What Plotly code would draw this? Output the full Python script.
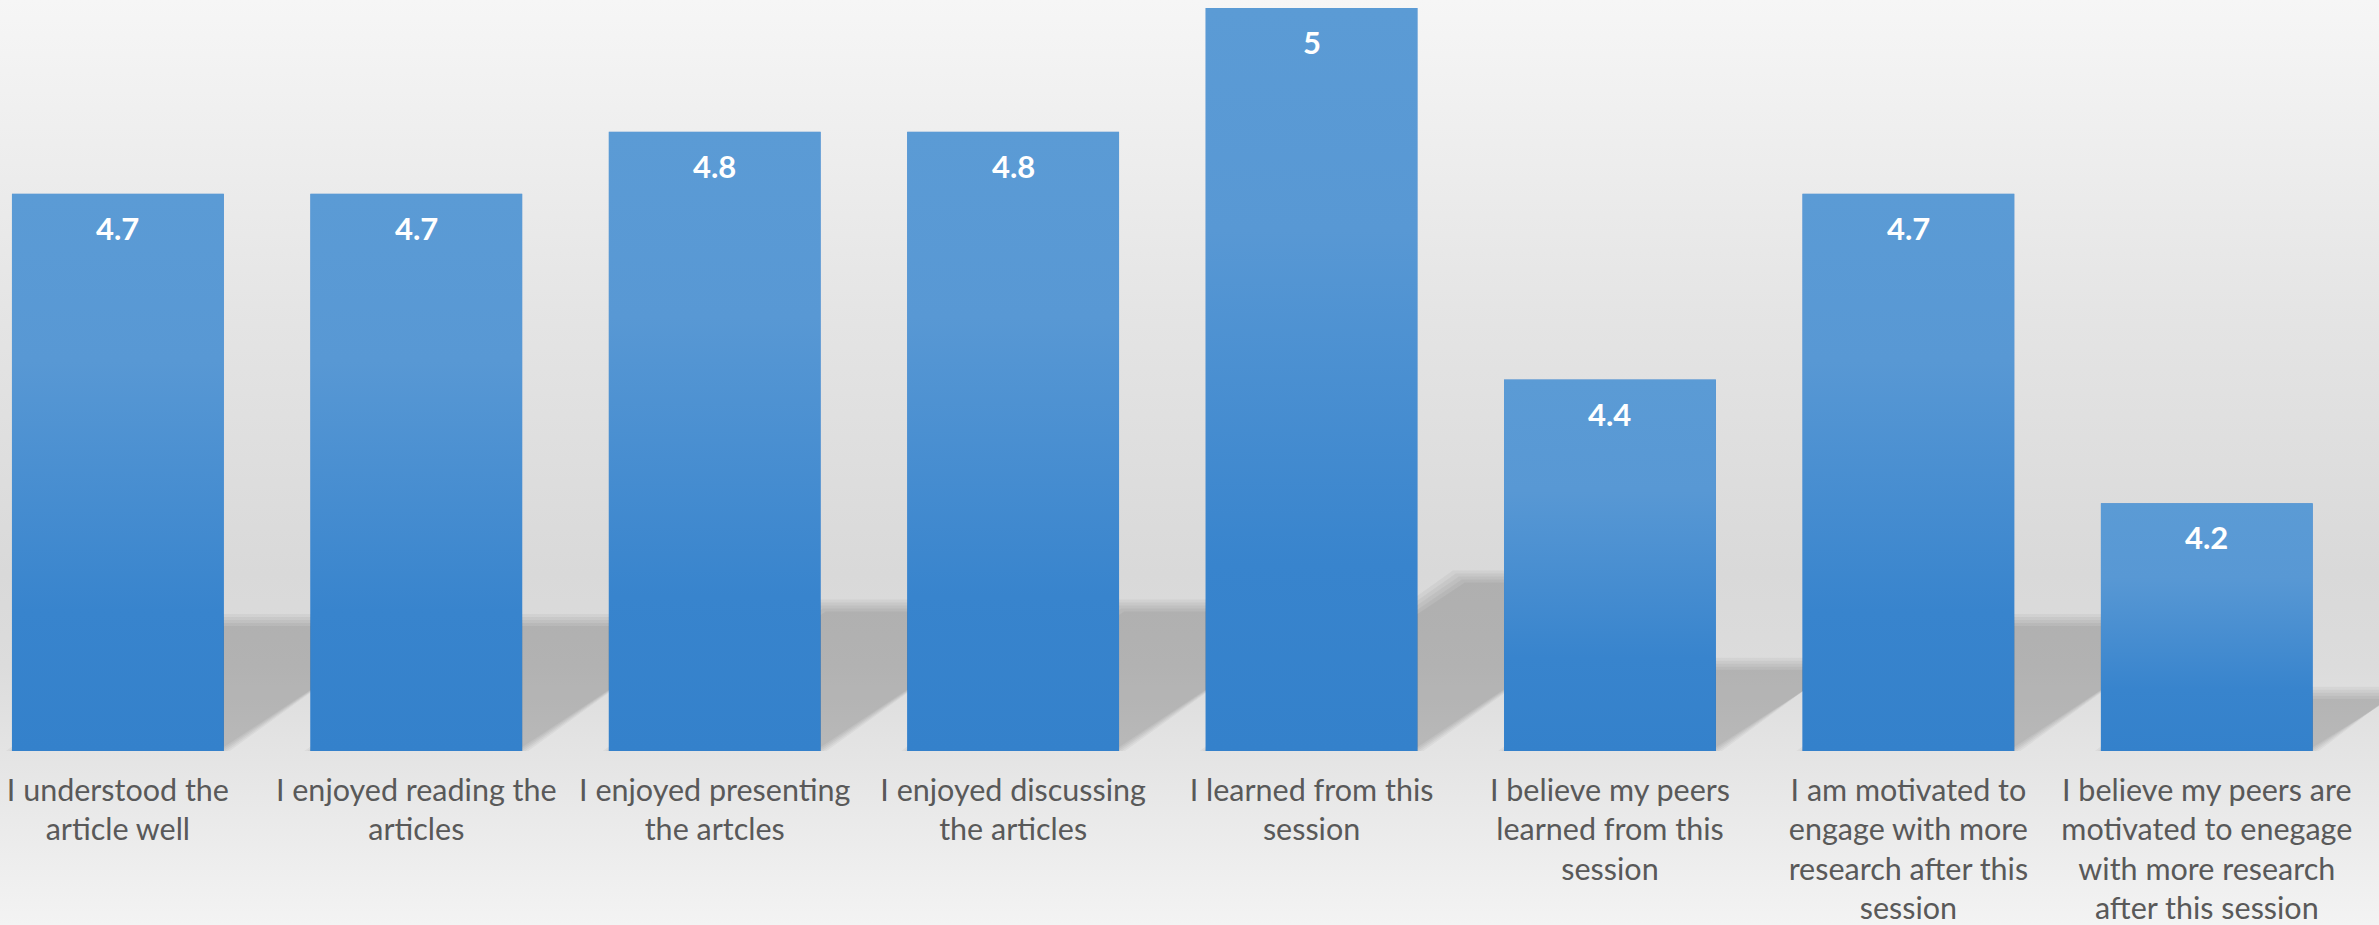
import base64
import plotly.graph_objects as go

# Survey statements (axis categories) and mean ratings
categories = [
    "I understood the<br>article well",
    "I enjoyed reading the<br>articles",
    "I enjoyed presenting<br>the artcles",
    "I enjoyed discussing<br>the articles",
    "I learned from this<br>session",
    "I believe my peers<br>learned from this<br>session",
    "I am motivated to<br>engage with more<br>research after this<br>session",
    "I believe my peers are<br>motivated to enegage<br>with more research<br>after this session",
]
scores = [4.7, 4.7, 4.8, 4.8, 5.0, 4.4, 4.7, 4.2]

# ---- layout geometry -------------------------------------------------------
W, H = 2379, 925
MARGIN_B = 174
Y_MIN, Y_MAX = 3.8, 5.013
X_MIN, X_MAX = -0.395, 7.577
BAR_W = 0.71

PX_X = W / (X_MAX - X_MIN)
PX_Y = (H - MARGIN_B) / (Y_MAX - Y_MIN)

positions = list(range(len(scores)))
value_text = [f"{v:g}" for v in scores]


def svg_uri(svg):
    return "data:image/svg+xml;base64," + base64.b64encode(svg.encode()).decode()


def vertical_gradient(stops):
    parts = "".join(
        f'<stop offset="{o}" stop-color="{c}"/>' for o, c in stops
    )
    return svg_uri(
        '<svg xmlns="http://www.w3.org/2000/svg" width="100" height="100" '
        'viewBox="0 0 100 100" preserveAspectRatio="none">'
        '<defs><linearGradient id="g" x1="0" y1="0" x2="0" y2="1">'
        f"{parts}</linearGradient></defs>"
        '<rect x="0" y="0" width="100" height="100" fill="url(#g)"/></svg>'
    )


BG_GRADIENT = vertical_gradient([
    (0.00, "#F6F6F6"),
    (0.35, "#E4E4E4"),
    (0.62, "#D9D9D9"),
    (0.72, "#DCDCDC"),
    (0.80, "#E3E3E3"),
    (0.90, "#EBEBEB"),
    (1.00, "#F3F3F3"),
])
BAR_GRADIENT = vertical_gradient([
    (0.00, "#5B9BD5"),
    (0.30, "#5898D4"),
    (0.75, "#3884CD"),
    (1.00, "#3481CB"),
])

fig = go.Figure()

# ---- perspective drop shadows behind the bars -----------------------------
SH_RATIO = 0.235      # shadow height relative to bar height
SKEW = 1.45           # horizontal shear (px per px of shadow height)
BLUR = [-6, -3, 0, 3, 6]
for x, v in zip(positions, scores):
    h = SH_RATIO * (v - Y_MIN)
    s = SKEW * h * PX_Y / PX_X
    for d in BLUR:
        hh = h + d / PX_Y
        lb = x - BAR_W / 2 - d / PX_X
        rb = x + BAR_W / 2 + d / PX_X
        fig.add_trace(go.Scatter(
            x=[lb, rb, rb + s, lb + s, lb],
            y=[Y_MIN, Y_MIN, Y_MIN + hh, Y_MIN + hh, Y_MIN],
            mode="lines", fill="toself",
            fillcolor="rgba(0,0,0,0.041)", line=dict(width=0),
            hoverinfo="skip", showlegend=False,
        ))

# ---- bars --------------------------------------------------------------------
fig.add_trace(go.Bar(
    x=positions, y=scores, width=BAR_W,
    marker=dict(color="#4689CF", line=dict(width=0)),
    hovertemplate="%{y}<extra></extra>", showlegend=False,
))

images = [dict(
    source=BG_GRADIENT, xref="paper", yref="paper",
    x=0, y=1, sizex=1, sizey=H / (H - MARGIN_B),
    xanchor="left", yanchor="top", sizing="stretch", layer="below",
)]
for x, v in zip(positions, scores):
    images.append(dict(
        source=BAR_GRADIENT, xref="x", yref="y",
        x=x - BAR_W / 2, y=v, sizex=BAR_W, sizey=v - Y_MIN,
        xanchor="left", yanchor="top", sizing="stretch", layer="above",
    ))

# ---- value labels inside the bar tops ------------------------------------------
annotations = [
    dict(x=x, y=v, xref="x", yref="y", text=t, showarrow=False,
         yanchor="middle", yshift=-34,
         font=dict(family="Lato", size=31, color="white", weight="bold"))
    for x, v, t in zip(positions, scores, value_text)
]

fig.update_layout(
    width=W, height=H,
    margin=dict(l=0, r=0, t=0, b=MARGIN_B, pad=0),
    paper_bgcolor="rgba(0,0,0,0)", plot_bgcolor="rgba(0,0,0,0)",
    images=images, annotations=annotations,
    showlegend=False,
    xaxis=dict(
        range=[X_MIN, X_MAX], tickmode="array",
        tickvals=positions, ticktext=categories,
        showgrid=False, zeroline=False, showline=False, ticks="",
        ticklabelstandoff=18,
        tickfont=dict(family="Lato", size=30.5, color="#595959"),
    ),
    yaxis=dict(
        range=[Y_MIN, Y_MAX], visible=False, showgrid=False, zeroline=False,
    ),
)

fig.write_html("out.html")
